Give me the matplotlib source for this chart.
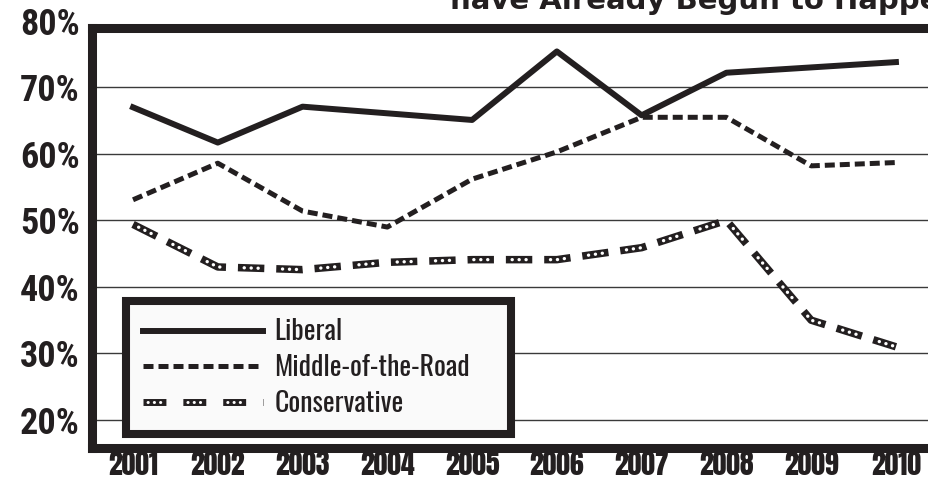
import matplotlib
matplotlib.use("Agg")
import matplotlib.pyplot as plt
from matplotlib.lines import Line2D
from matplotlib.legend_handler import HandlerTuple

plt.rcParams['font.family'] = ['Roboto Condensed', 'DejaVu Sans']
plt.rcParams['lines.scale_dashes'] = False

years = [2001, 2002, 2003, 2004, 2005, 2006, 2007, 2008, 2009, 2010]
liberal = [67.0, 61.7, 67.1, 66.1, 65.1, 75.4, 65.8, 72.2, 73.0, 73.8]
middle = [53.1, 58.6, 51.4, 49.0, 56.2, 60.3, 65.5, 65.5, 58.2, 58.7]
conservative = [49.4, 43.0, 42.6, 43.7, 44.1, 44.1, 45.9, 50.0, 35.0, 31.0]
yticks = [20, 30, 40, 50, 60, 70]
series_names = ['Liberal', 'Middle-of-the-Road', 'Conservative']
title = 'have Already Begun to Happen'

ink = '#231f20'
W, H = 929, 483

fig = plt.figure(figsize=(W / 100, H / 100), dpi=100)
ax = fig.add_axes([91.5 / W, (H - 447.5) / H, 848.5 / W, 420 / H])
ax.set_xlim(2000.51, 2010.52)
ax.set_ylim(15.86, 79.0)

# gridlines
for v in yticks:
    ax.axhline(v, color='#3a3a3a', lw=1.0, zorder=1)

# series
mid_style = (0, (7.2, 3.6))
cons_dash = (0, (19, 8.6))
cons_dots = (23.1, (0.1, 4.9, 0.1, 4.9, 0.1, 17.5))
ax.plot(years, liberal, color=ink, lw=4.3, zorder=3)
ax.plot(years, middle, color=ink, lw=3.6, linestyle=mid_style,
        dash_capstyle='butt', zorder=3)
ax.plot(years, conservative, color=ink, lw=5.4, linestyle=cons_dash,
        dash_capstyle='butt', zorder=3)
ax.plot(years, conservative, color='white', lw=2.4, linestyle=cons_dots,
        dash_capstyle='round', zorder=4)

# frame
for s in ax.spines.values():
    s.set_linewidth(6.5)
    s.set_color(ink)
    s.set_capstyle('projecting')

ax.set_xticks(years)
ax.set_xticklabels([str(y) for y in years], family=['Anton', 'DejaVu Sans'],
                   fontsize=20)
ax.set_yticks(yticks)
ax.set_yticklabels([f'{v}%' for v in yticks], fontsize=26, fontweight='heavy')
ax.tick_params(axis='y', length=0, pad=8.3, labelcolor=ink)
ax.tick_params(axis='x', length=0, pad=2.5, labelcolor=ink)
ax.text(-0.01355, 80, '80%', transform=ax.get_yaxis_transform(), ha='right',
        va='center_baseline', fontsize=26, fontweight='heavy', color=ink,
        clip_on=False)

# legend
h_lib = Line2D([], [], color=ink, lw=4.3)
h_mid = Line2D([], [], color=ink, lw=3.6, linestyle=mid_style)
h_con = (Line2D([], [], color=ink, lw=5.0, linestyle=(0, (16.5, 12.2))),
         Line2D([], [], color='white', lw=2.2, dash_capstyle='round',
                linestyle=(25.4, (0.1, 4.4, 0.1, 4.4, 0.1, 19.6))))
leg = ax.legend([h_lib, h_mid, h_con], series_names,
                handler_map={tuple: HandlerTuple(ndivide=1, pad=0)},
                loc='upper left', mode='expand',
                bbox_to_anchor=(126 / W, 1 - 301 / H, 385 / W, 0),
                bbox_transform=fig.transFigure, borderaxespad=0,
                prop={'family': ['Oswald', 'DejaVu Sans'], 'size': 20},
                handlelength=4.3, handletextpad=0.43,
                borderpad=0.62, labelspacing=0.32, fancybox=False,
                framealpha=1, facecolor='#fafafa', edgecolor=ink)
leg.get_frame().set_linewidth(5.8)
for t in leg.get_texts():
    t.set_color(ink)
leg.set_zorder(5)

fig.text(450 / W, 1 - 9 / H, title, ha='left', va='baseline',
         fontsize=21, fontweight='bold', color=ink, family='DejaVu Sans')

fig.savefig('out.png', dpi=100)
